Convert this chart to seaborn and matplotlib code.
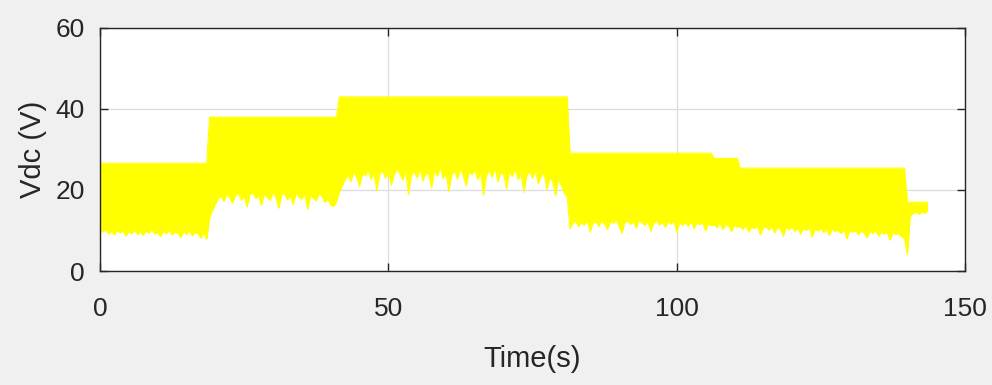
import matplotlib
matplotlib.use('Agg')
import matplotlib.pyplot as plt
import numpy as np
import pandas as pd
import seaborn as sns

# sample spacing of the envelope readings (s)
step = 0.5

# start time of each segment and its upper level (V)
seg_start = [0.0, 19.0, 41.5, 81.5, 106.5, 111.0, 140.0]
seg_upper = [26.6, 38.0, 43.0, 29.1, 27.8, 25.4, 17.0]

# lower envelope of the ripple, read every 0.5 s
low_1 = [10.5, 9.6, 10.2, 9.1, 9.8, 8.9, 10.0, 9.4, 9.9, 8.6, 9.7, 9.2, 10.1, 9.0, 9.6, 8.8,
         9.9, 9.3, 10.3, 9.1, 9.5, 8.5, 9.8, 9.2, 10.0, 8.9, 9.6, 9.4, 8.3, 9.7, 9.0, 9.9,
         8.7, 9.5, 9.2, 8.1, 9.4, 7.8]
low_2 = [13.0, 15.0, 16.5, 17.8, 18.5, 17.2, 19.0, 18.0, 16.8, 18.7, 19.2, 17.5, 18.4, 15.8,
         18.9, 19.3, 17.9, 18.6, 16.2, 19.0, 18.2, 17.4, 19.4, 18.1, 15.5, 18.8, 19.1, 17.6,
         18.5, 16.4, 19.2, 18.3, 17.7, 19.0, 15.2, 18.6, 18.0, 17.3, 19.1, 18.4, 16.9, 17.8,
         16.3, 15.9, 17.0]
low_3 = [19.5, 21.0, 22.5, 23.8, 22.0, 24.5, 23.2, 20.8, 24.0, 23.5,
         25.0, 22.6, 24.2, 19.8, 23.9, 24.8, 22.9, 24.4, 21.2, 23.6,
         25.3, 24.0, 22.4, 24.7, 18.9, 23.8, 24.5, 23.0, 25.1, 22.2,
         24.3, 23.7, 20.5, 24.9, 23.4, 25.6, 22.8, 24.1, 19.6, 23.9,
         24.6, 22.7, 25.2, 23.5, 21.0, 24.4, 23.8, 25.0, 22.5, 24.2,
         18.7, 23.6, 24.8, 23.1, 25.4, 22.0, 24.3, 23.9, 20.2, 24.6,
         23.3, 25.1, 22.6, 24.0, 19.4, 23.7, 24.5, 22.9, 24.8, 21.5,
         23.4, 24.2, 20.0, 23.0, 22.1, 18.6, 22.8, 21.0, 19.2, 18.5]
low_4 = [10.5, 11.8, 12.4, 10.9, 12.0, 11.3, 12.6, 9.6, 11.9, 12.2,
         11.0, 12.5, 11.6, 10.2, 12.3, 11.8, 12.7, 11.1, 9.3, 12.0,
         12.4, 11.5, 12.1, 10.6, 12.6, 11.9, 11.2, 12.3, 9.8, 11.7,
         12.5, 11.4, 12.0, 10.8, 12.2, 11.6, 12.4, 9.5, 11.9, 11.3,
         12.1, 11.0, 12.3, 10.4, 11.8, 11.5, 12.0, 9.9, 11.6, 11.2]
low_5 = [11.4, 10.7, 11.9, 10.2, 11.5, 11.1, 9.7, 11.3, 10.8]
low_6 = [11.0, 10.3, 11.2, 9.6, 10.8, 10.5, 11.1, 8.9, 10.6, 10.9,
         10.1, 11.0, 9.4, 10.7, 10.4, 8.6, 10.8, 10.2, 10.9, 9.8,
         10.5, 9.1, 10.6, 10.0, 10.7, 8.4, 10.3, 9.9, 10.5, 9.5,
         10.2, 8.8, 10.4, 9.7, 10.1, 9.2, 10.3, 7.9, 9.9, 9.6,
         10.0, 9.0, 9.8, 9.4, 8.2, 9.7, 9.3, 9.9, 8.7, 9.5,
         9.1, 9.6, 7.6, 9.4, 9.0, 9.3, 8.5, 8.0]
low_7 = [4.0, 13.5, 14.2, 14.6, 14.0, 14.5, 14.3, 14.8]

lows = [low_1, low_2, low_3, low_4, low_5, low_6, low_7]

rows = []
for t0, up, lo in zip(seg_start, seg_upper, lows):
    for i, v in enumerate(lo):
        rows.append({'t': t0 + i * step, 'upper': up, 'lower': v})
df = pd.DataFrame(rows)

sns.set_theme(style="ticks")
plt.rcParams['font.family'] = ['Liberation Sans', 'DejaVu Sans']

fig = plt.figure(figsize=(9.92, 3.85), dpi=100, facecolor='#f0f0f0')
ax = fig.add_axes([0.1008, 0.2961, 0.872, 0.6312])
ax.set_facecolor('white')

yellow = '#ffff00'
ax.fill_between(df['t'], df['lower'], df['upper'], color=yellow, linewidth=0, zorder=2)
sns.lineplot(data=df, x='t', y='upper', color=yellow, linewidth=0.8, ax=ax, zorder=3)
sns.lineplot(data=df, x='t', y='lower', color=yellow, linewidth=0.8, ax=ax, zorder=3)

ax.set_xlim(0, 150)
ax.set_ylim(0, 60)
ax.set_xticks([0, 50, 100, 150])
ax.set_yticks([0, 20, 40, 60])
ax.grid(True, color='#dcdcdc', linewidth=0.9, zorder=1)
ax.set_axisbelow(True)

for s in ax.spines.values():
    s.set_color('#262626')
    s.set_linewidth(1.0)
    s.set_zorder(4)

ax.tick_params(axis='both', direction='in', length=6, width=1, color='#262626',
               labelsize=19, labelcolor='#262626', top=True, right=True)
ax.tick_params(axis='x', pad=19)
ax.tick_params(axis='y', pad=11)

ax.set_xlabel('Time(s)', fontsize=21, color='#262626', labelpad=17)
ax.set_ylabel('Vdc (V)', fontsize=21, color='#262626', labelpad=6)

fig.savefig('out.png', dpi=100, facecolor=fig.get_facecolor())
